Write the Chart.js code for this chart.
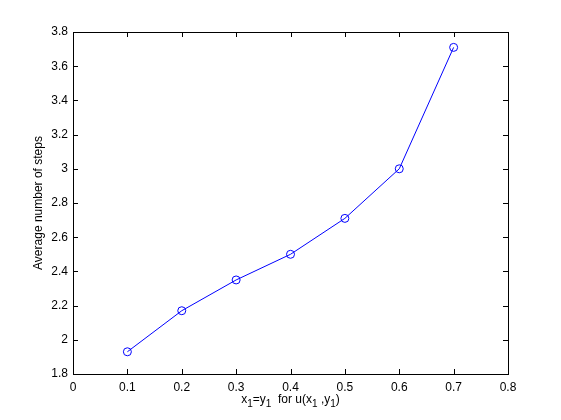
<!DOCTYPE html>
<html>
<head>
<meta charset="utf-8">
<script src="https://cdn.jsdelivr.net/npm/chart.js@4"></script>
<style>
  html, body { margin: 0; padding: 0; background: #fff; }
  #wrap { width: 561px; height: 420px; }
</style>
</head>
<body>
<div id="wrap"><canvas id="plot" width="561" height="420"></canvas></div>
<script>
// data
const xVals = [0.1, 0.2, 0.3, 0.4, 0.5, 0.6, 0.7];
const steps = [1.93, 2.17, 2.35, 2.50, 2.71, 3.0, 3.71];
const xTicks = [0, 0.1, 0.2, 0.3, 0.4, 0.5, 0.6, 0.7, 0.8];
const yTicks = [1.8, 2, 2.2, 2.4, 2.6, 2.8, 3, 3.2, 3.4, 3.6, 3.8];

const FONT = "Liberation Sans, Arial, sans-serif";

// draws text with subscript parts, centred on x
function drawSub(ctx, parts, x, y, size) {
  let w = 0;
  parts.forEach(p => {
    ctx.font = (p.sub ? size - 2 : size) + "px " + FONT;
    w += ctx.measureText(p.t).width;
  });
  let cx = x - w / 2;
  parts.forEach(p => {
    ctx.font = (p.sub ? size - 2 : size) + "px " + FONT;
    ctx.fillText(p.t, cx, p.sub ? y + 4 : y);
    cx += ctx.measureText(p.t).width;
  });
}

const matlabAxes = {
  id: "matlabAxes",
  afterDraw(chart) {
    const { ctx, chartArea: a, scales } = chart;
    ctx.save();
    ctx.strokeStyle = "#000";
    ctx.lineWidth = 1;
    ctx.strokeRect(Math.round(a.left) + 0.5, Math.round(a.top) + 0.5,
      Math.round(a.right - a.left), Math.round(a.bottom - a.top));
    ctx.beginPath();
    xTicks.forEach(v => {
      const px = Math.round(scales.x.getPixelForValue(v)) + 0.5;
      ctx.moveTo(px, a.bottom); ctx.lineTo(px, a.bottom - 5);
      ctx.moveTo(px, a.top); ctx.lineTo(px, a.top + 5);
    });
    yTicks.forEach(v => {
      const py = Math.round(scales.y.getPixelForValue(v)) + 0.5;
      ctx.moveTo(a.left, py); ctx.lineTo(a.left + 5, py);
      ctx.moveTo(a.right, py); ctx.lineTo(a.right - 5, py);
    });
    ctx.stroke();

    ctx.fillStyle = "#000";
    ctx.textBaseline = "alphabetic";
    ctx.textAlign = "left";
    drawSub(ctx, [
      { t: "x" }, { t: "1", sub: true }, { t: "=y" }, { t: "1", sub: true },
      { t: "  for u(x" }, { t: "1", sub: true }, { t: " ,y" }, { t: "1", sub: true }, { t: ")" }
    ], (a.left + a.right) / 2, 403, 12);

    ctx.translate(42, (a.top + a.bottom) / 2);
    ctx.rotate(-Math.PI / 2);
    ctx.textAlign = "center";
    ctx.font = "12px " + FONT;
    ctx.fillText("Average number of steps", 0, 0);
    ctx.restore();
  }
};

new Chart(document.getElementById("plot"), {
  type: "line",
  data: {
    datasets: [{
      data: xVals.map((x, i) => ({ x: x, y: steps[i] })),
      borderColor: "#0000ff",
      borderWidth: 1,
      pointStyle: "circle",
      pointRadius: 4,
      pointBorderColor: "#0000ff",
      pointBackgroundColor: "rgba(0,0,0,0)",
      pointBorderWidth: 1,
      tension: 0,
    }],
  },
  options: {
    responsive: false,
    animation: false,
    layout: { padding: { top: 32, right: 53, left: 0, bottom: 0 } },
    plugins: { legend: { display: false }, tooltip: { enabled: false } },
    scales: {
      x: {
        type: "linear",
        min: 0, max: 0.8,
        afterBuildTicks: s => { s.ticks = xTicks.map(v => ({ value: v })); },
        afterFit: s => { s.height = 46; },
        grid: { display: false, drawTicks: false },
        border: { display: false },
        ticks: { color: "#000", padding: 6, font: { family: FONT, size: 12 }, maxRotation: 0,
          callback: v => String(v) },
      },
      y: {
        min: 1.8, max: 3.8,
        afterBuildTicks: s => { s.ticks = yTicks.map(v => ({ value: v })); },
        afterFit: s => { s.width = 73; },
        grid: { display: false, drawTicks: false },
        border: { display: false },
        ticks: { color: "#000", padding: 5, font: { family: FONT, size: 12 },
          callback: v => String(Math.round(v * 10) / 10) },
      },
    },
  },
  plugins: [matlabAxes],
});
</script>
</body>
</html>
